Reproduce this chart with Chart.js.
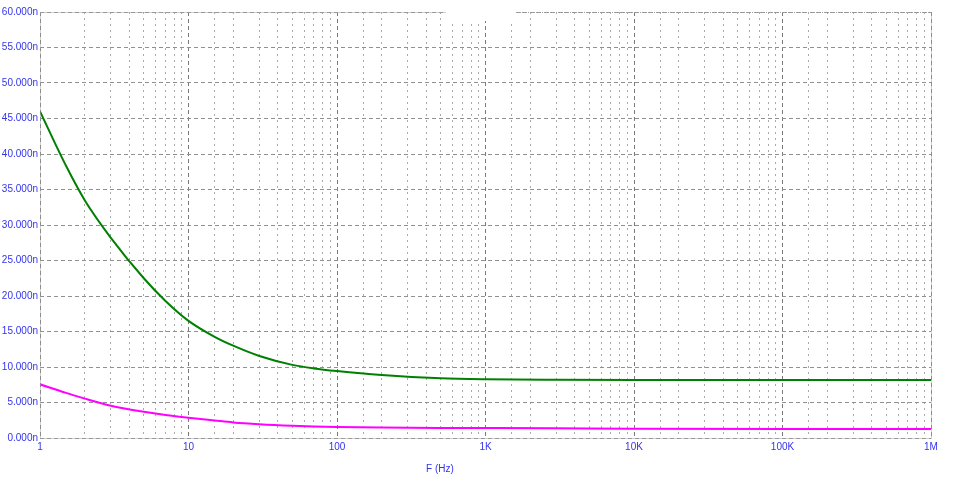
<!DOCTYPE html>
<html>
<head>
<meta charset="utf-8">
<script src="https://cdn.jsdelivr.net/npm/chart.js@4"></script>
<style>
  html, body { margin: 0; padding: 0; background: #fff; }
  #wrap { width: 957px; height: 479px; }
</style>
</head>
<body>
<div id="wrap"><canvas id="plot"></canvas></div>
<script>
// frequencies (Hz) and the two traces (values in n)
const freqs = [1, 1.5, 2, 3, 5, 7, 10, 15, 20, 30, 50, 70, 100, 200, 500, 1000, 3000, 10000, 100000, 1000000];
const greenVals = [46, 38.3, 33.5, 28.2, 22.5, 19.3, 16.5, 14.25, 13.0, 11.55, 10.3, 9.8, 9.43, 8.87, 8.4, 8.26, 8.19, 8.17, 8.17, 8.17];
const pinkVals = [7.56, 6.35, 5.55, 4.55, 3.7, 3.25, 2.86, 2.47, 2.2, 1.95, 1.73, 1.63, 1.55, 1.47, 1.42, 1.4, 1.36, 1.29, 1.27, 1.27];
const xTickLabels = ["1", "10", "100", "1K", "10K", "100K", "1M"];
const yTickLabels = ["0.000n", "5.000n", "10.000n", "15.000n", "20.000n", "25.000n", "30.000n",
  "35.000n", "40.000n", "45.000n", "50.000n", "55.000n", "60.000n"];

const labelBlue = "#3333ee";
const font = { family: "Liberation Sans", size: 10 };

function toPts(vals) {
  return freqs.map((f, i) => ({ x: f, y: vals[i] }));
}

function isDecade(v) {
  const l = Math.log10(v);
  return Math.abs(l - Math.round(l)) < 1e-9;
}

const extras = {
  id: "extras",
  afterDraw(chart) {
    const { ctx, chartArea: a } = chart;
    ctx.save();
    // white notch in the top edge
    ctx.fillStyle = "#fff";
    ctx.fillRect(446, 0, 70, 21);
    // dotted frame
    ctx.strokeStyle = "#a0a0a0";
    ctx.lineWidth = 1;
    ctx.setLineDash([1, 1]);
    ctx.beginPath();
    ctx.moveTo(a.left + 0.5, a.top + 0.5);
    ctx.lineTo(a.left + 0.5, a.bottom + 0.5);
    ctx.lineTo(a.right + 0.5, a.bottom + 0.5);
    ctx.lineTo(a.right + 0.5, a.top + 0.5);
    ctx.stroke();
    ctx.beginPath();
    ctx.moveTo(a.left + 0.5, a.top + 0.5);
    ctx.lineTo(446, a.top + 0.5);
    ctx.moveTo(516, a.top + 0.5);
    ctx.lineTo(a.right + 0.5, a.top + 0.5);
    ctx.stroke();
    // axis title
    ctx.setLineDash([]);
    ctx.fillStyle = labelBlue;
    ctx.font = "10px 'Liberation Sans'";
    ctx.textAlign = "center";
    ctx.textBaseline = "middle";
    ctx.fillText("F (Hz)", 440, 469);
    ctx.restore();
  }
};

new Chart(document.getElementById("plot"), {
  type: "line",
  data: {
    datasets: [
      {
        data: toPts(greenVals),
        borderColor: "#008000",
        borderWidth: 2,
        pointRadius: 0,
        cubicInterpolationMode: "monotone",
        fill: false
      },
      {
        data: toPts(pinkVals),
        borderColor: "#ff00ff",
        borderWidth: 2,
        pointRadius: 0,
        cubicInterpolationMode: "monotone",
        fill: false
      }
    ]
  },
  options: {
    responsive: true,
    maintainAspectRatio: false,
    animation: false,
    layout: { padding: { top: 12, right: 26, left: 0, bottom: 0 } },
    plugins: { legend: { display: false }, tooltip: { enabled: false } },
    scales: {
      x: {
        type: "logarithmic",
        min: 1,
        max: 1000000,
        afterFit(s) { s.height = 41; },
        border: {
          display: false,
          dash: (ctx) => (ctx.tick && isDecade(ctx.tick.value) ? [4, 3] : [2, 4])
        },
        grid: {
          drawTicks: false,
          color: (ctx) => (ctx.tick && isDecade(ctx.tick.value) ? "#7a7a7a" : "#aaaaaa")
        },
        ticks: {
          autoSkip: false,
          maxRotation: 0,
          padding: 3,
          color: labelBlue,
          font: font,
          callback: (v) => (isDecade(v) ? xTickLabels[Math.round(Math.log10(v))] : "")
        }
      },
      y: {
        min: 0,
        max: 60,
        afterFit(s) { s.width = 40; },
        border: { display: false, dash: [4, 3] },
        grid: { drawTicks: false, color: "#909090" },
        ticks: {
          stepSize: 5,
          padding: 2,
          color: labelBlue,
          font: font,
          callback: (v) => yTickLabels[Math.round(v / 5)]
        }
      }
    }
  },
  plugins: [extras]
});
</script>
</body>
</html>
